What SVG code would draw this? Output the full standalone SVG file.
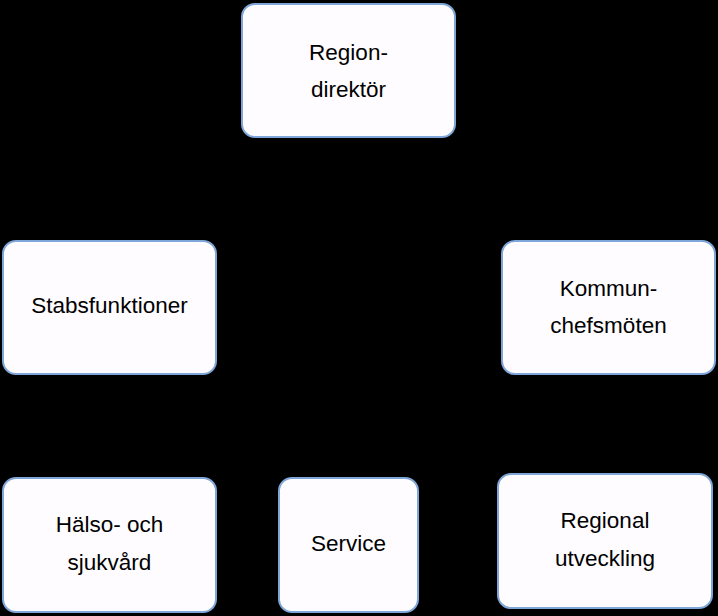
<svg xmlns="http://www.w3.org/2000/svg" width="718" height="616" viewBox="0 0 718 616">
<style>
.box{fill:#fefcff;stroke:#7fa6d8;stroke-width:2}
.t{font-family:"Liberation Sans",Arial,sans-serif;font-size:22.5px;fill:#000;text-anchor:middle}
</style>
<rect width="718" height="616" fill="#000"/>
<g id="connectors"></g>
<g id="regiondirektor"><rect class="box" x="242" y="4" width="213" height="133" rx="13"/><text class="t" x="348.5" y="60">Region-</text><text class="t" x="348.5" y="97">direktör</text></g>
<g id="stabsfunktioner"><rect class="box" x="3" y="241" width="213" height="133" rx="13"/><text class="t" x="109.5" y="313">Stabsfunktioner</text></g>
<g id="kommunchefsmoten"><rect class="box" x="502" y="241" width="213" height="133" rx="13"/><text class="t" x="608.5" y="296">Kommun-</text><text class="t" x="608.5" y="333">chefsmöten</text></g>
<g id="halso"><rect class="box" x="3" y="478" width="213" height="134" rx="13"/><text class="t" x="109.5" y="532">Hälso- och</text><text class="t" x="109.5" y="570">sjukvård</text></g>
<g id="service"><rect class="box" x="279" y="478" width="139" height="134" rx="13"/><text class="t" x="348.5" y="551">Service</text></g>
<g id="regional"><rect class="box" x="498" y="474" width="214" height="134" rx="13"/><text class="t" x="605" y="528">Regional</text><text class="t" x="605" y="566">utveckling</text></g>
</svg>
